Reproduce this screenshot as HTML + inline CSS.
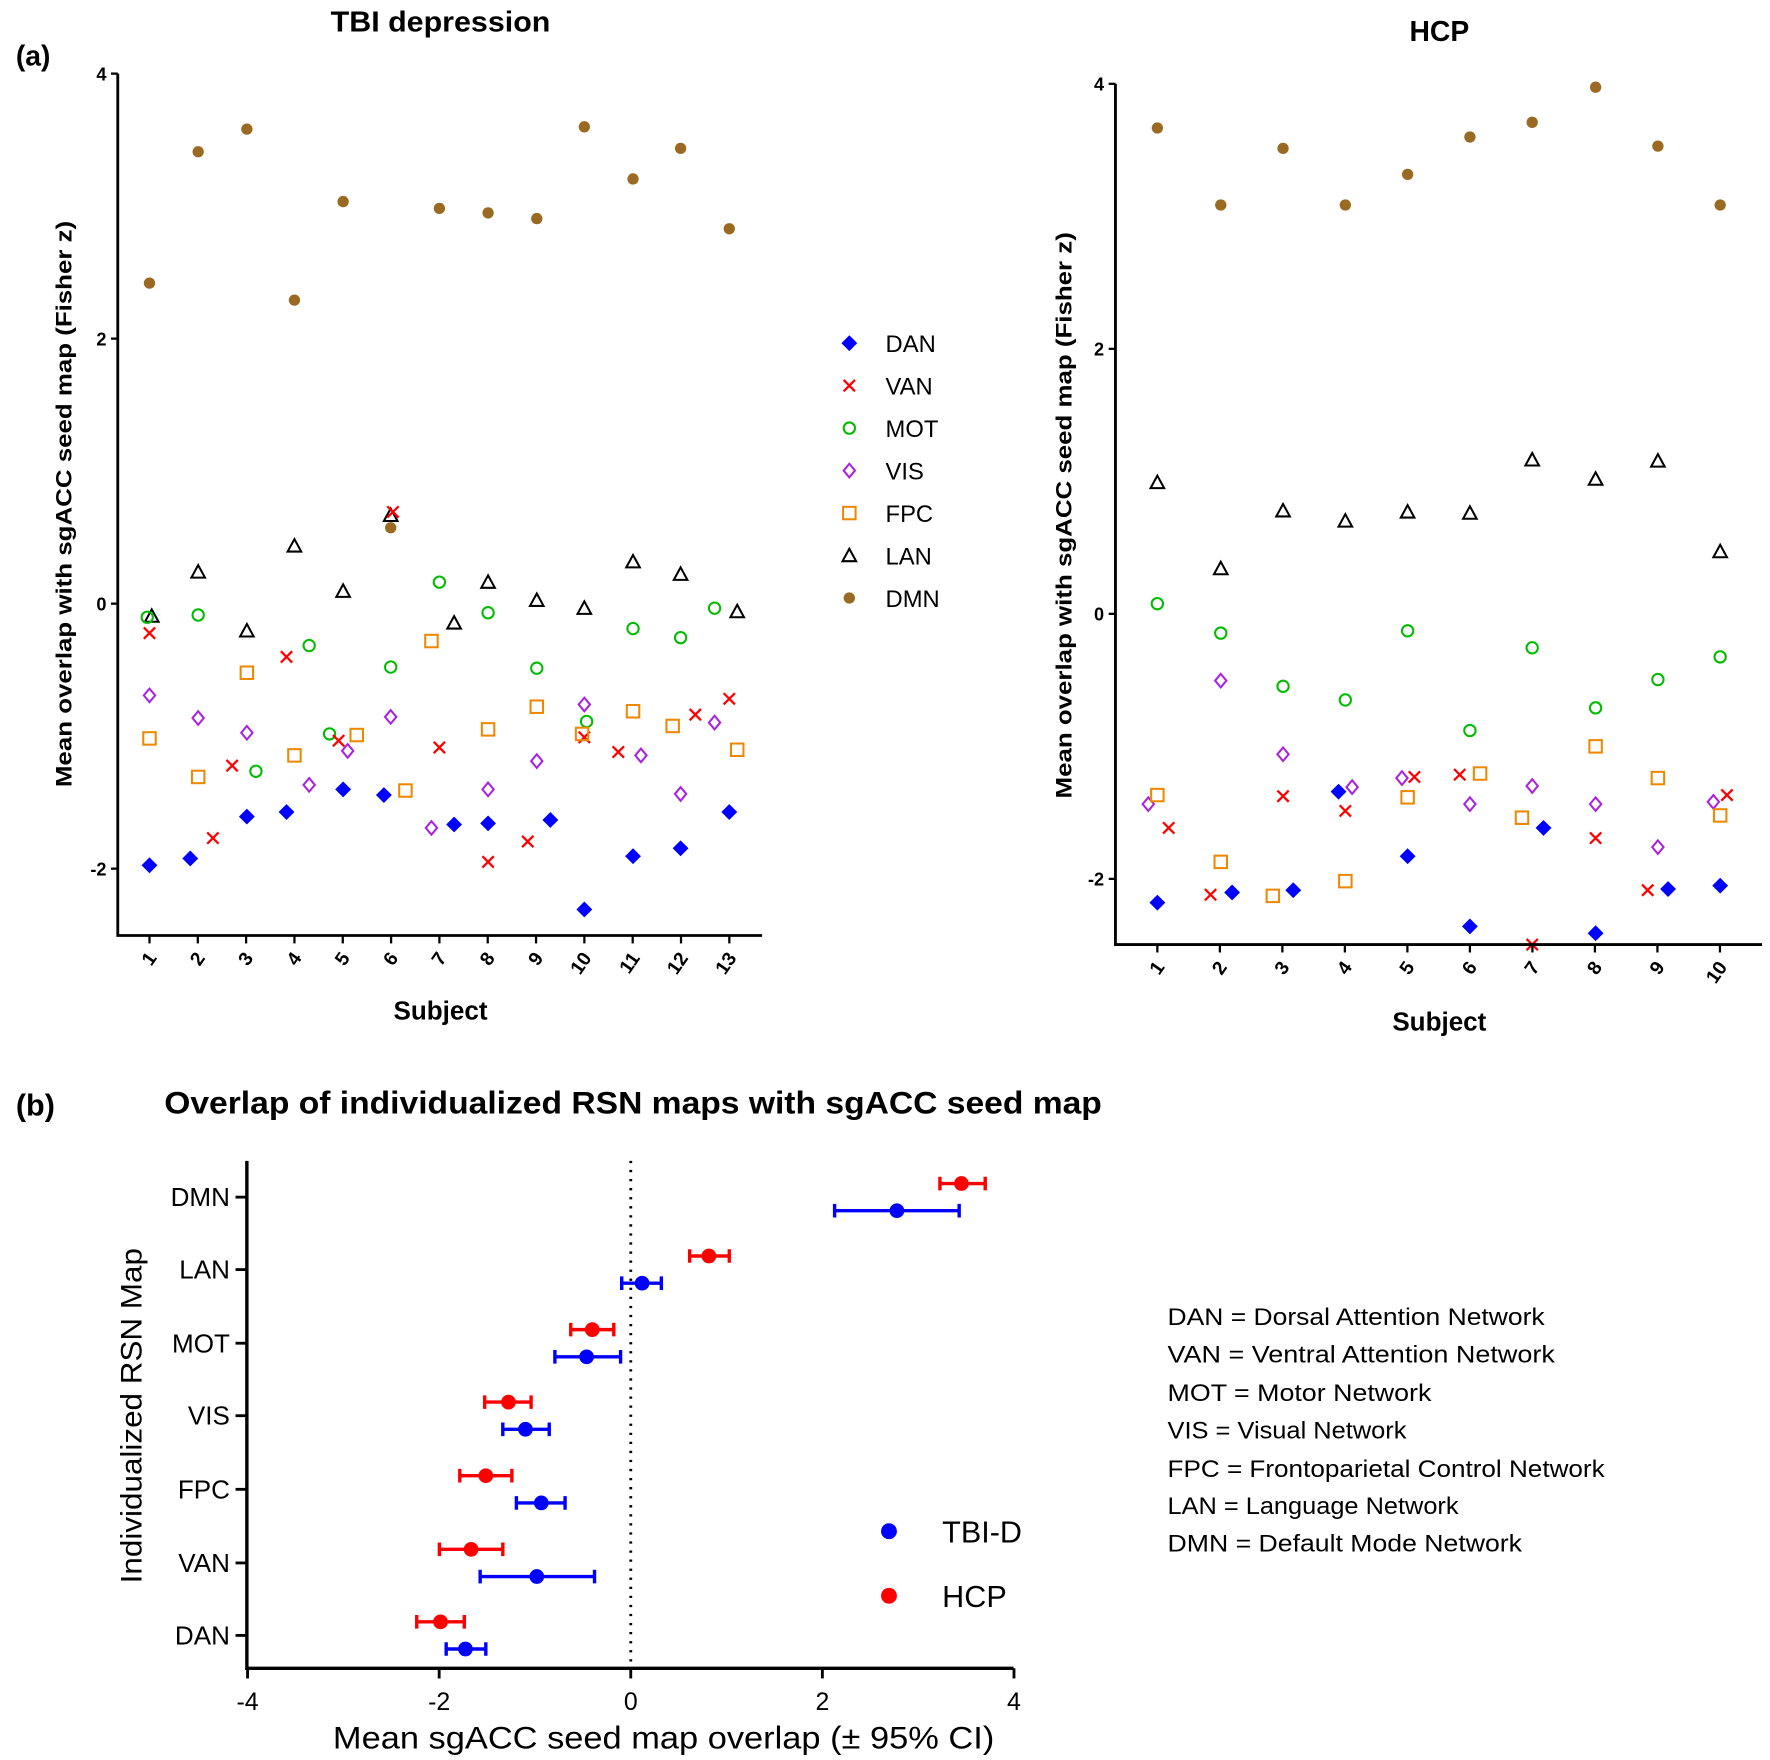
<!DOCTYPE html>
<html><head><meta charset="utf-8"><style>html,body{margin:0;padding:0;background:#fff}svg{display:block}</style></head>
<body>
<svg id="s" width="1770" height="1760" viewBox="0 0 1563 1554" preserveAspectRatio="none" xmlns="http://www.w3.org/2000/svg" font-family="Liberation Sans, Arial, sans-serif">
<rect width="1563" height="1554" fill="#fff"/>
<g id="g"></g>
<text x="14" y="58" font-size="25" font-weight="bold">(a)</text>
<text x="389" y="28" font-size="25" font-weight="bold" text-anchor="middle" textLength="194" lengthAdjust="spacingAndGlyphs">TBI depression</text>
<text x="1271" y="36" font-size="25" font-weight="bold" text-anchor="middle">HCP</text>
<text x="389" y="900" font-size="23" font-weight="bold" text-anchor="middle">Subject</text>
<text x="1271" y="910" font-size="23" font-weight="bold" text-anchor="middle">Subject</text>
<text transform="translate(63,445) rotate(-90)" font-size="20" font-weight="bold" text-anchor="middle" textLength="500" lengthAdjust="spacingAndGlyphs">Mean overlap with sgACC seed map (Fisher z)</text>
<text transform="translate(946,455) rotate(-90)" font-size="20" font-weight="bold" text-anchor="middle" textLength="500" lengthAdjust="spacingAndGlyphs">Mean overlap with sgACC seed map (Fisher z)</text>
<text x="14" y="985" font-size="27" font-weight="bold">(b)</text>
<text x="145" y="983" font-size="28" font-weight="bold" textLength="828" lengthAdjust="spacingAndGlyphs">Overlap of individualized RSN maps with sgACC seed map</text>
<text transform="translate(125,1250) rotate(-90)" font-size="26" text-anchor="middle" textLength="296" lengthAdjust="spacingAndGlyphs">Individualized RSN Map</text>
<text x="294" y="1544" font-size="28" textLength="584" lengthAdjust="spacingAndGlyphs">Mean sgACC seed map overlap (± 95% CI)</text>
<g font-size="21">
<text x="1031" y="1170" textLength="333" lengthAdjust="spacingAndGlyphs">DAN = Dorsal Attention Network</text>
<text x="1031" y="1203" textLength="342" lengthAdjust="spacingAndGlyphs">VAN = Ventral Attention Network</text>
<text x="1031" y="1237" textLength="233" lengthAdjust="spacingAndGlyphs">MOT = Motor Network</text>
<text x="1031" y="1270" textLength="211" lengthAdjust="spacingAndGlyphs">VIS = Visual Network</text>
<text x="1031" y="1304" textLength="386" lengthAdjust="spacingAndGlyphs">FPC = Frontoparietal Control Network</text>
<text x="1031" y="1337" textLength="257" lengthAdjust="spacingAndGlyphs">LAN = Language Network</text>
<text x="1031" y="1370" textLength="313" lengthAdjust="spacingAndGlyphs">DMN = Default Mode Network</text>
</g>
<circle cx="785" cy="1352" r="7" fill="#0000ff"/><text x="832" y="1362" font-size="27">TBI-D</text>
<circle cx="785" cy="1409" r="7" fill="#ff0000"/><text x="832" y="1419" font-size="27">HCP</text>
</svg>
<script>
const g=document.getElementById('g');let h='';
const C={DAN:'#0000ff',VAN:'#ff0000',MOT:'#00bb00',VIS:'#aa22dd',FPC:'#ee8800',LAN:'#000',DMN:'#9b6a22'};
function m(t,x,y){const c=C[t];
 if(t=='DMN')return `<circle cx="${x}" cy="${y}" r="5" fill="${c}"/>`;
 if(t=='DAN')return `<path d="M${x} ${y-7}L${x+7} ${y}L${x} ${y+7}L${x-7} ${y}Z" fill="${c}"/>`;
 if(t=='VAN')return `<path d="M${x-5} ${y-5}L${x+5} ${y+5}M${x+5} ${y-5}L${x-5} ${y+5}" stroke="${c}" stroke-width="2"/>`;
 if(t=='MOT')return `<circle cx="${x}" cy="${y}" r="5" fill="none" stroke="${c}" stroke-width="1.8"/>`;
 if(t=='VIS')return `<path d="M${x} ${y-6}L${x+5} ${y}L${x} ${y+6}L${x-5} ${y}Z" fill="none" stroke="${c}" stroke-width="1.8"/>`;
 if(t=='FPC')return `<rect x="${x-5.5}" y="${y-5.5}" width="11" height="11" fill="none" stroke="${c}" stroke-width="1.8"/>`;
 if(t=='LAN')return `<path d="M${x} ${y-6}L${x+6} ${y+5}L${x-6} ${y+5}Z" fill="none" stroke="${c}" stroke-width="1.8"/>`;}
function P(t,a){for(let i=0;i<a.length;i+=2)h+=m(t,a[i],a[i+1]);}
P('DMN',[132,250,175,134,218,114,260,265,303,178,345,466,388,184,431,188,474,193,516,112,559,158,601,131,644,202]);
P('LAN',[134,544,175,505,218,557,260,482,303,522,345,455,401,550,431,514,474,530,516,537,559,496,601,507,651,540]);
P('MOT',[130,545,175,543,226,681,273,570,291,648,345,589,388,514,431,541,474,590,518,637,559,555,601,563,631,537]);
P('VAN',[132,559,188,740,205,676,253,580,299,654,347,452,388,660,431,761,466,743,516,651,546,664,614,631,644,617]);
P('VIS',[132,614,175,634,218,647,273,693,307,663,345,633,381,731,431,697,474,672,516,622,566,667,601,701,631,638]);
P('FPC',[132,652,175,686,218,594,260,667,315,649,358,698,381,566,431,644,474,624,514,648,559,628,594,641,651,662]);
P('DAN',[132,764,168,758,218,721,253,717,303,697,339,702,401,728,431,727,486,724,516,803,559,756,601,749,644,717]);
P('DMN',[1022,113,1078,181,1133,131,1188,181,1243,154,1298,121,1353,108,1409,77,1464,129,1519,181]);
P('LAN',[1022,426,1078,502,1133,451,1188,460,1243,452,1298,453,1353,406,1409,423,1464,407,1519,487]);
P('MOT',[1022,533,1078,559,1133,606,1188,618,1243,557,1298,645,1353,572,1409,625,1464,600,1519,580]);
P('VIS',[1014,710,1078,601,1133,666,1194,695,1238,687,1298,710,1353,694,1409,710,1464,748,1513,708]);
P('VAN',[1032,731,1069,790,1133,703,1188,716,1249,686,1289,684,1353,834,1409,740,1455,786,1525,702]);
P('FPC',[1022,702,1078,761,1124,791,1188,778,1243,704,1307,683,1344,722,1409,659,1464,687,1519,720]);
P('DAN',[1022,797,1088,788,1142,786,1182,699,1243,756,1298,818,1363,731,1409,824,1473,785,1519,782]);
['DAN','VAN','MOT','VIS','FPC','LAN','DMN'].forEach((t,i)=>{const y=303+i*37.5;h+=m(t,750,y);h+=`<text x="782" y="${y+8}" font-size="21">${t}</text>`;});
function ax(x0,y0,y1,x1,zero,ticks,xs){h+=`<path d="M${x0} ${y0}V${y1}H${x1}" fill="none" stroke="#000" stroke-width="2.5"/>`;
 [4,2,0,-2].forEach(v=>{const y=zero-v*117;h+=`<path d="M${x0-6} ${y}H${x0}" stroke="#000" stroke-width="2"/><text x="${x0-10}" y="${y+6}" font-size="16" font-weight="bold" text-anchor="end">${v}</text>`;});
 xs.forEach((x,i)=>{h+=`<path d="M${x} ${y1}V${y1+7}" stroke="#000" stroke-width="2"/><text transform="translate(${x+7},${y1+20}) rotate(-55)" font-size="17" font-weight="bold" text-anchor="end">${i+1}</text>`;});}
ax(104,65,826,673,533,0,Array.from({length:13},(_,i)=>132+i*42.67));
ax(985,74,834,1556,542,0,Array.from({length:10},(_,i)=>1022+i*55.2));
h+=`<path d="M218 1025V1473H895" fill="none" stroke="#000" stroke-width="3"/>`;
h+=`<path d="M557 1025V1473" stroke="#000" stroke-width="2.5" stroke-dasharray="2,6"/>`;
[-4,-2,0,2,4].forEach(v=>{const x=557+v*84.6;h+=`<path d="M${x} 1473V1482" stroke="#000" stroke-width="2.5"/><text x="${x}" y="1510" font-size="22" text-anchor="middle">${v}</text>`;});
const cats=[['DMN',1057,849,830,870,792,737,847],['LAN',1121,626,609,644,567,549,584],['MOT',1186,523,504,542,518,490,548],['VIS',1250,449,428,469,464,444,485],['FPC',1315,429,406,452,478,456,499],['VAN',1380,416,388,444,474,424,525],['DAN',1444,389,368,410,411,394,429]];
cats.forEach(c=>{const y=c[1];h+=`<path d="M208 ${y}H218" stroke="#000" stroke-width="2.5"/><text x="203" y="${y+8}" font-size="23" text-anchor="end">${c[0]}</text>`;
 [[y-12,c[2],c[3],c[4],'#f00'],[y+12,c[5],c[6],c[7],'#00f']].forEach(e=>{h+=`<path d="M${e[2]} ${e[0]}H${e[3]}M${e[2]} ${e[0]-6}V${e[0]+6}M${e[3]} ${e[0]-6}V${e[0]+6}" stroke="${e[4]}" stroke-width="3"/><circle cx="${e[1]}" cy="${e[0]}" r="6.5" fill="${e[4]}"/>`;});});
g.innerHTML=h;
</script>
</body></html>
